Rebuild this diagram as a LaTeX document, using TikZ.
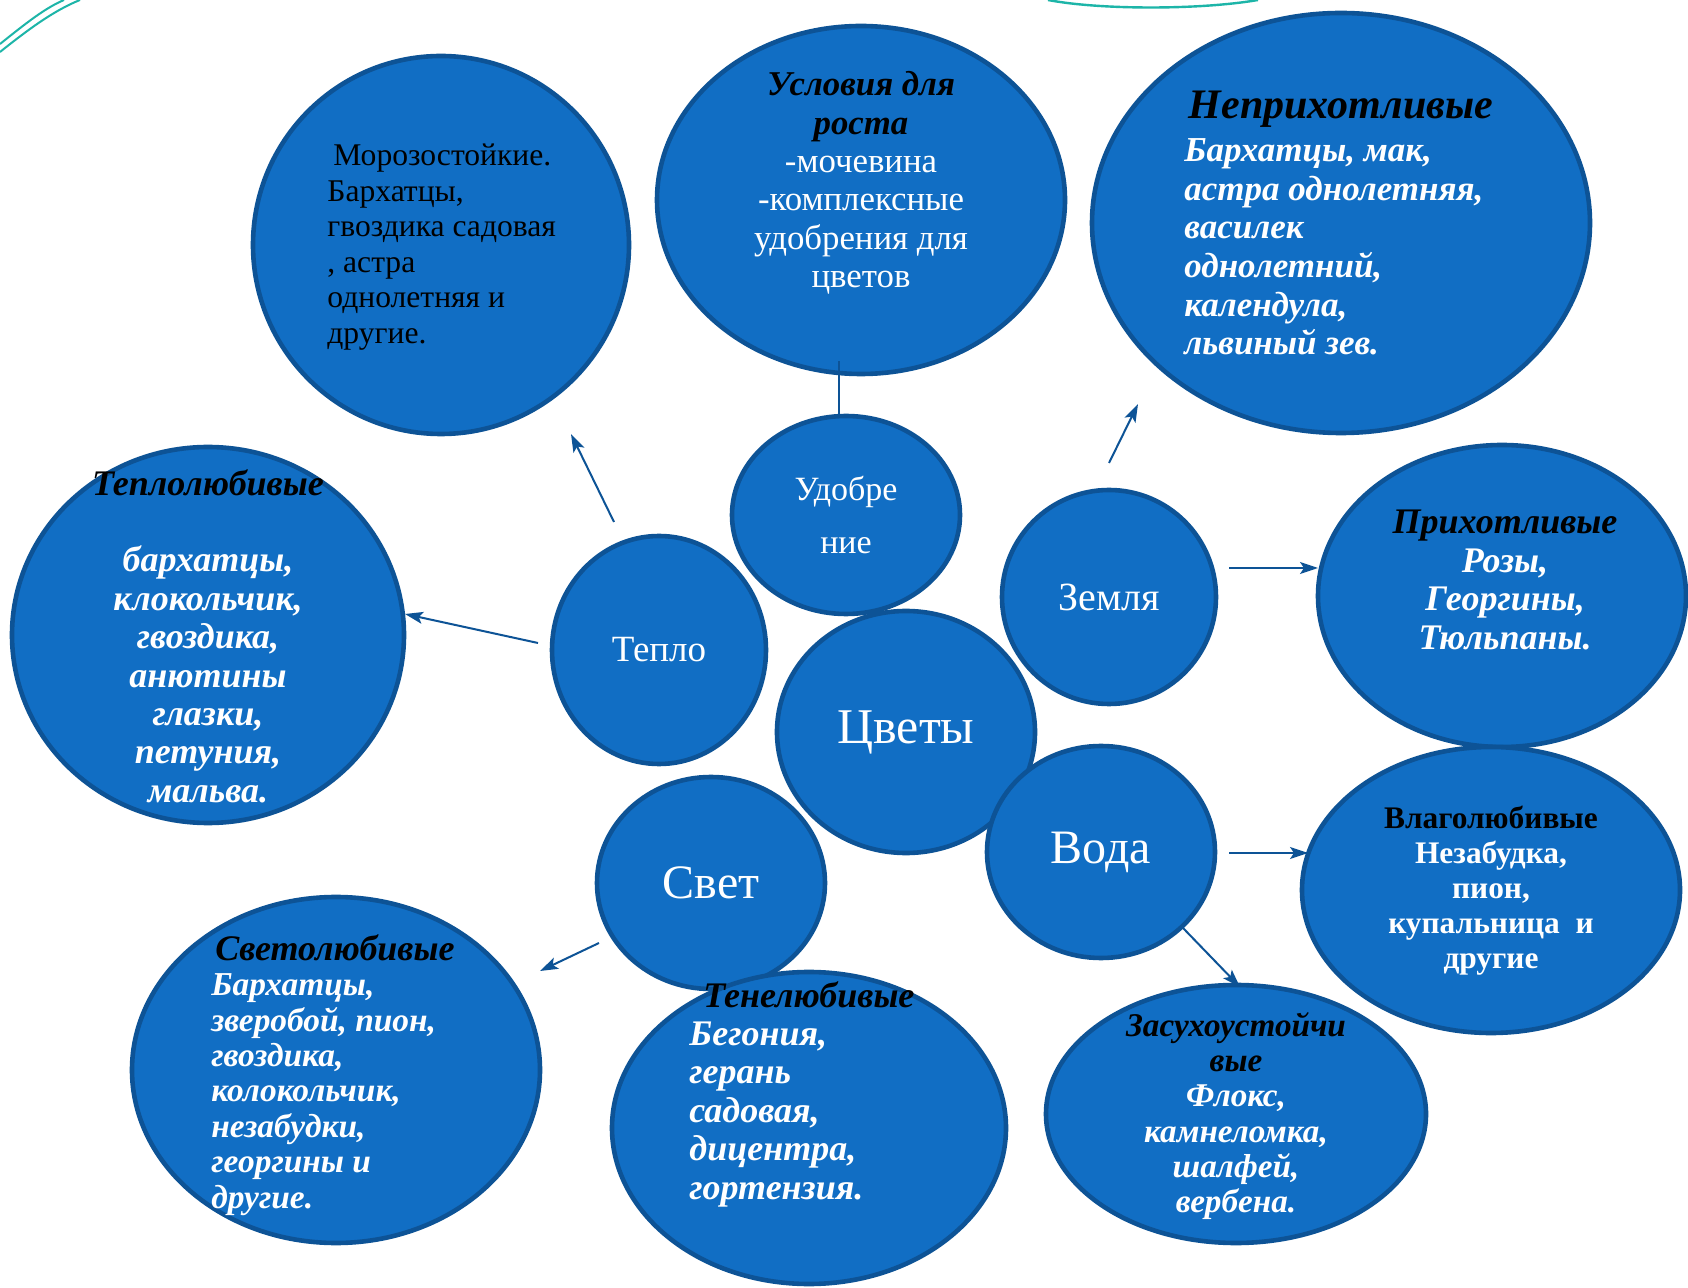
\documentclass[tikz,border=0pt]{standalone}
\usepackage{fontspec}
\setmainfont{Liberation Serif}
\usetikzlibrary{arrows.meta, shapes.geometric, calc}
\definecolor{bubblefill}{HTML}{116EC4}
\definecolor{bubbleedge}{HTML}{0D5396}
\definecolor{decoteal}{HTML}{1DB5A8}
\tikzset{
    flower-bubble/.style={
        ellipse, draw=bubbleedge, fill=bubblefill, line width=2.3pt, inner sep=0pt
    },
    hub-text/.style={
        text=white, align=center, inner sep=0pt
    },
    leaf-text/.style={
        text=white, inner sep=0pt, font=\bfseries\itshape\fontsize{18}{19.2}\selectfont
    },
    link-arrow/.style={
        draw=bubbleedge, line width=1pt, -{Stealth[length=9pt, width=6pt, inset=2pt]}
    },
}

\begin{document}
\begin{tikzpicture}[x=0.5pt, y=-0.5pt]

        % CANVAS
        \fill[white] (0,0) rectangle (1688,1288);
        \useasboundingbox (0,0) rectangle (1688,1288);
        \draw[decoteal, line width=1pt] (0,52) .. controls (30,28) and (55,10) .. (80,0);
        \draw[decoteal, line width=1pt] (0,44) .. controls (25,24) and (45,8) .. (64,0);
        \draw[decoteal, line width=1.2pt] (1048,0) .. controls (1100,10) and (1200,10) .. (1258,0);

        % OUTER BUBBLES
        \node[flower-bubble, minimum width=188pt, minimum height=189pt] (moroz)  at (441,245)  {};
        \node[flower-bubble, minimum width=204pt, minimum height=174pt] (uslov)  at (861,200)  {};
        \node[flower-bubble, minimum width=249pt, minimum height=210pt] (neprih) at (1341,223) {};
        \node[flower-bubble, minimum width=196pt, minimum height=188pt] (teplol) at (208,635)  {};
        \node[flower-bubble, minimum width=184pt, minimum height=151pt] (prih)   at (1502,596) {};
        \node[flower-bubble, minimum width=189pt, minimum height=143pt] (vlago)  at (1491,890) {};
        \node[flower-bubble, minimum width=204pt, minimum height=173pt] (svetol) at (336,1070) {};
        \node[flower-bubble, minimum width=190pt, minimum height=129pt] (zasuh)  at (1236,1114) {};

        % INNER BUBBLES
        \node[flower-bubble, minimum width=114pt, minimum height=99pt]  (udobr)  at (846,515)  {};
        \node[flower-bubble, minimum width=107pt, minimum height=114pt] (teplo)  at (659,650)  {};
        \node[flower-bubble, minimum width=107pt, minimum height=107pt] (zemlya) at (1109,597) {};
        \node[flower-bubble, minimum width=129pt, minimum height=121pt] (tsvety) at (906,732)  {};
        \node[flower-bubble, minimum width=114pt, minimum height=106pt] (voda)   at (1101,852) {};
        \node[flower-bubble, minimum width=114pt, minimum height=106pt] (svet)   at (711,883)  {};
        \node[flower-bubble, minimum width=197pt, minimum height=156pt] (tenel)  at (809,1128) {};

        % HUB LABELS
        \node[hub-text, font=\fontsize{17}{27}\selectfont] (udobr-txt)  at (udobr)  {Удобре\\ние};
        \node[hub-text, font=\fontsize{18.5}{22}\selectfont] (teplo-txt)  at (teplo)  {Тепло};
        \node[hub-text, font=\fontsize{20}{24}\selectfont] (zemlya-txt) at (zemlya) {Земля};
        \node[hub-text, font=\fontsize{25}{30}\selectfont] (tsvety-txt) at (tsvety) {Цветы};
        \node[hub-text, font=\fontsize{24}{29}\selectfont] (voda-txt)   at (voda)   {Вода};
        \node[hub-text, font=\fontsize{24}{29}\selectfont] (svet-txt)   at (svet)   {Свет};

        % LEAF LABELS
        \node[text=black, inner sep=0pt, align=left, anchor=west,
              font=\fontsize{15.8}{17.8}\selectfont] (moroz-txt) at (327,247)
              {\hspace{3pt}Морозостойкие.\\Бархатцы,\\гвоздика садовая\\, астра\\однолетняя и\\другие.};
        \node[hub-text, font=\fontsize{17.4}{19.2}\selectfont] (uslov-txt) at (861,183)
              {\textcolor{black}{\bfseries\itshape Условия для}\\\textcolor{black}{\bfseries\itshape роста}\\-мочевина\\-комплексные\\удобрения для\\цветов};
        \node[text=black, inner sep=0pt, font=\bfseries\itshape\fontsize{21}{24}\selectfont] (neprih-ttl) at (1341,109) {Неприхотливые};
        \node[leaf-text, align=left, anchor=west, font=\bfseries\itshape\fontsize{17.5}{19.3}\selectfont] (neprih-txt) at (1184,247)
              {Бархатцы, мак,\\астра однолетняя,\\василек\\однолетний,\\календула,\\львиный зев.};
        \node[leaf-text, align=center] (teplol-txt) at (208,636)
              {\textcolor{black}{Теплолюбивые}\\[19.2pt]бархатцы,\\клокольчик,\\гвоздика,\\анютины\\глазки,\\петуния,\\мальва.};
        \node[leaf-text, align=center] (prih-txt) at (1505,580)
              {\textcolor{black}{Прихотливые}\\Розы,\\Георгины,\\Тюльпаны.};
        \node[hub-text, font=\bfseries\fontsize{15.7}{17.5}\selectfont] (vlago-txt) at (1491,891)
              {\textcolor{black}{Влаголюбивые}\\Незабудка,\\пион,\\купальница\ \ и\\другие};
        \node[leaf-text, align=center, font=\bfseries\itshape\fontsize{16.6}{17.6}\selectfont] (zasuh-txt) at (1236,1116)
              {\textcolor{black}{Засухоустойчи}\\\textcolor{black}{вые}\\Флокс,\\камнеломка,\\шалфей,\\вербена.};
        \node[leaf-text, align=left, anchor=west, font=\bfseries\itshape\fontsize{16.7}{17.7}\selectfont] (svetol-txt) at (211,1075)
              {\hspace{2pt}\textcolor{black}{\fontsize{18}{17.7}\selectfont Светолюбивые}\\Бархатцы,\\зверобой, пион,\\гвоздика,\\колокольчик,\\незабудки,\\георгины и\\другие.};
        \node[leaf-text, align=left, anchor=west] (tenel-txt) at (689,1094)
              {\hspace{7pt}\textcolor{black}{Тенелюбивые}\\Бегония,\\герань\\садовая,\\дицентра,\\гортензия.};

        % CONNECTOR POINTS
        \coordinate (TEPLOUP)    at ($(teplo)  + (-45,-128)$);
        \coordinate (MOROZIN)    at ($(moroz)  + (130,189)$);
        \coordinate (TEPLOLEFT)  at ($(teplo)  + (-121,-7)$);
        \coordinate (TEPLOLIN)   at ($(teplol) + (197,-21)$);
        \coordinate (UDOBRUP)    at ($(udobr)  + (-7,-98)$);
        \coordinate (USLOVIN)    at ($(uslov)  + (-22,161)$);
        \coordinate (ZEMLYAUP)   at ($(zemlya) + (0,-134)$);
        \coordinate (NEPRIHIN)   at ($(neprih) + (-203,181)$);
        \coordinate (ZEMLYARIGHT) at ($(zemlya) + (120,-29)$);
        \coordinate (PRIHIN)     at ($(prih)   + (-184,-28)$);
        \coordinate (VODARIGHT)  at ($(voda)   + (128,1)$);
        \coordinate (VLAGOIN)    at ($(vlago)  + (-183,-37)$);
        \coordinate (VODADOWN)   at ($(voda)   + (82,76)$);
        \coordinate (ZASUHIN)    at ($(zasuh)  + (4,-127)$);
        \coordinate (SVETLEFT)   at ($(svet)   + (-112,60)$);
        \coordinate (SVETOLIN)   at ($(svetol) + (204,-99)$);

        % CONNECTIONS
        \draw[link-arrow] (TEPLOUP) -- (MOROZIN);
        \draw[link-arrow] (TEPLOLEFT) -- (TEPLOLIN);
        \draw[draw=bubbleedge, line width=1pt] (UDOBRUP) -- (USLOVIN);
        \draw[link-arrow] (ZEMLYAUP) -- (NEPRIHIN);
        \draw[link-arrow] (ZEMLYARIGHT) -- (PRIHIN);
        \draw[link-arrow] (VODARIGHT) -- (VLAGOIN);
        \draw[link-arrow] (VODADOWN) -- (ZASUHIN);
        \draw[link-arrow] (SVETLEFT) -- (SVETOLIN);

    \end{tikzpicture}
\end{document}
